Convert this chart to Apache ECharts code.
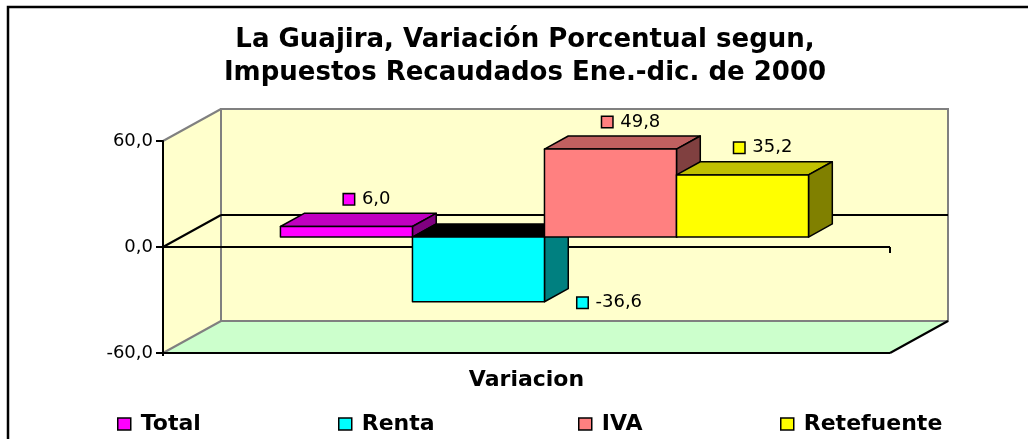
<!DOCTYPE html>
<html>
<head>
<meta charset="utf-8">
<script src="https://cdn.jsdelivr.net/npm/echarts@6/dist/echarts.min.js"></script>
<style>
  html, body { margin: 0; padding: 0; background: #fff; }
  #chart { width: 1028px; height: 439px; }
</style>
</head>
<body>
<div id="chart"></div>
<script>
// data
var categories = ['Variacion'];
var seriesNames = ['Total', 'Renta', 'IVA', 'Retefuente'];
var seriesValues = [6.0, -36.6, 49.8, 35.2];
var yTicks = [-60, 0, 60];

// styles
var FONT = 'DejaVu Sans';
var frontColors = ['#FF00FF', '#00FFFF', '#FF8080', '#FFFF00'];
var topColors = ['#C000C0', '#000000', '#C06060', '#C0C000'];
var sideColors = ['#800080', '#008080', '#804040', '#808000'];
var legendLefts = [112, 333, 573, 775];

var DEPTH = [58, -32];      // depth of the 3d box in px
var NEAR = 0.31, FAR = 0.72; // depth range of the bars
var BAR_RATIO = 0.1816;      // one bar width / category band

function fmt(v) { return v.toFixed(1).replace('.', ','); }

var chart = echarts.init(document.getElementById('chart'));

function seg(a, b, color) {
  return { type: 'polyline', shape: { points: [a, b] }, style: { stroke: color, lineWidth: 2, fill: null } };
}

// walls, floor and zero plane
function renderWalls(params, api) {
  var cs = params.coordSys;
  var x0 = cs.x, x1 = cs.x + cs.width, y0 = cs.y, y1 = cs.y + cs.height;
  var dx = DEPTH[0], dy = DEPTH[1];
  var z = api.coord([0, 0])[1];
  var G = '#808080', B = '#000';
  return {
    type: 'group',
    children: [
      { type: 'polygon', shape: { points: [[x0 + dx, y0 + dy], [x1 + dx, y0 + dy], [x1 + dx, y1 + dy], [x0 + dx, y1 + dy]] },
        style: { fill: '#FFFFCC', stroke: G, lineWidth: 2 } },
      { type: 'polygon', shape: { points: [[x0, y0], [x0 + dx, y0 + dy], [x0 + dx, y1 + dy], [x0, y1]] },
        style: { fill: '#FFFFCC' } },
      { type: 'polygon', shape: { points: [[x0, y1], [x0 + dx, y1 + dy], [x1 + dx, y1 + dy], [x1, y1]] },
        style: { fill: '#CCFFCC' } },
      seg([x0, y0], [x0 + dx, y0 + dy], G),
      seg([x0 + dx, y0 + dy], [x0 + dx, y1 + dy], G),
      seg([x0, y1], [x0 + dx, y1 + dy], G),
      seg([x0 + dx, y1 + dy], [x1 + dx, y1 + dy], G),
      seg([x1 + dx, y1 + dy], [x1, y1], B),
      seg([x0, z], [x0 + dx, z + dy], B),
      seg([x0 + dx, z + dy], [x1 + dx, z + dy], B),
      seg([x0, z], [x1, z], B),
      seg([x1, z], [x1, z + 6], B),
      seg([x0, y1], [x1, y1], B)
    ]
  };
}

function renderBar(idx) {
  return function (params, api) {
    var v = api.value(1);
    var base = api.coord([api.value(0), 0]);
    var end = api.coord([api.value(0), v]);
    var band = api.size([1, 0])[0];
    var w = band * BAR_RATIO;
    var n = seriesNames.length;
    var fx = DEPTH[0] * NEAR, fy = DEPTH[1] * NEAR;
    var dx = DEPTH[0] * (FAR - NEAR), dy = DEPTH[1] * (FAR - NEAR);
    var X = base[0] - w * n / 2 + idx * w + fx;
    var yA = base[1] + fy, yB = end[1] + fy;
    var yTop = Math.min(yA, yB), yBot = Math.max(yA, yB);
    var edge = { stroke: '#000', lineWidth: 1.5, lineJoin: 'round' };
    var lbl;
    var rich = {
      m: { width: 10, height: 10, backgroundColor: frontColors[idx], borderColor: '#000', borderWidth: 1.5 },
      t: { fontFamily: FONT, fontSize: 18, color: '#000', padding: [0, 0, 0, 8] }
    };
    if (v >= 0) {
      lbl = { type: 'text', style: { text: '{m|}{t|' + fmt(v) + '}', rich: rich, x: X + w / 2 + dx - 3, y: yTop + dy - 14,
        align: 'center', verticalAlign: 'middle' } };
    } else {
      lbl = { type: 'text', style: { text: '{m|}{t|' + fmt(v) + '}', rich: rich, x: X + w + 33, y: yBot + 1,
        align: 'left', verticalAlign: 'middle' } };
    }
    return {
      type: 'group',
      children: [
        { type: 'polygon', shape: { points: [[X, yTop], [X + w, yTop], [X + w + dx, yTop + dy], [X + dx, yTop + dy]] },
          style: Object.assign({ fill: topColors[idx] }, edge) },
        { type: 'polygon', shape: { points: [[X + w, yTop], [X + w + dx, yTop + dy], [X + w + dx, yBot + dy], [X + w, yBot]] },
          style: Object.assign({ fill: sideColors[idx] }, edge) },
        { type: 'rect', shape: { x: X, y: yTop, width: w, height: yBot - yTop },
          style: Object.assign({ fill: frontColors[idx] }, edge) },
        lbl
      ]
    };
  };
}

var series = [{
  type: 'custom', name: 'walls', silent: true, z: 1,
  renderItem: renderWalls, data: [[0, 0]]
}];
seriesNames.forEach(function (name, i) {
  series.push({
    type: 'custom', name: name, z: 3,
    itemStyle: { color: frontColors[i] },
    renderItem: renderBar(i),
    data: [[0, seriesValues[i]]]
  });
});

var legends = seriesNames.map(function (name, i) {
  return {
    data: [name], left: legendLefts[i], top: 408, icon: 'rect',
    itemWidth: 13, itemHeight: 12, selectedMode: false,
    itemStyle: { borderColor: '#000', borderWidth: 1.5 },
    textStyle: { fontFamily: FONT, fontWeight: 'bold', fontSize: 22, color: '#000', padding: [0, 0, 0, 5] }
  };
});

chart.setOption({
  animation: false,
  title: {
    text: 'La Guajira, Variación Porcentual segun,\nImpuestos Recaudados Ene.-dic. de 2000',
    left: 520, top: 19, textAlign: 'center',
    textStyle: { fontFamily: FONT, fontWeight: 'bold', fontSize: 26, lineHeight: 33, color: '#000' }
  },
  legend: legends,
  grid: { left: 163, right: 138, top: 141, bottom: 86, outerBoundsMode: 'none' },
  xAxis: {
    type: 'category', data: categories,
    axisLine: { show: false },
    axisTick: { show: true, length: 6, lineStyle: { color: '#000', width: 2 } },
    axisLabel: { margin: 16, fontFamily: FONT, fontWeight: 'bold', fontSize: 22, color: '#000' }
  },
  yAxis: {
    type: 'value', min: yTicks[0], max: yTicks[yTicks.length - 1], interval: 60, z: 10,
    axisLine: { show: true, lineStyle: { color: '#000', width: 2 } },
    axisTick: { show: true, length: 7, lineStyle: { color: '#000', width: 2 } },
    splitLine: { show: false },
    axisLabel: { margin: 10, fontFamily: FONT, fontSize: 18, color: '#000', formatter: fmt }
  },
  series: series
});

// front value axis line and ticks, placed through the axis scale
var axX = chart.convertToPixel({ yAxisIndex: 0 }, 0) * 0 + chart.getModel().getComponent('grid', 0).coordinateSystem.getRect().x;
var yTop = chart.convertToPixel({ yAxisIndex: 0 }, yTicks[yTicks.length - 1]);
var yBot = chart.convertToPixel({ yAxisIndex: 0 }, yTicks[0]);
var frame = [
  { type: 'rect', shape: { x: 8, y: 7, width: 1100, height: 500 },
    style: { fill: null, stroke: '#000', lineWidth: 2.5 }, z: 100 },
  { type: 'rect', shape: { x: axX - 1, y: yTop, width: 2, height: yBot - yTop + 3 },
    style: { fill: '#000' }, z: 100 }
];
yTicks.forEach(function (t) {
  var y = chart.convertToPixel({ yAxisIndex: 0 }, t);
  frame.push({ type: 'rect', shape: { x: axX - 7, y: y - 1, width: 7, height: 2 },
    style: { fill: '#000' }, z: 100 });
});
chart.setOption({ graphic: frame });
</script>
</body>
</html>
